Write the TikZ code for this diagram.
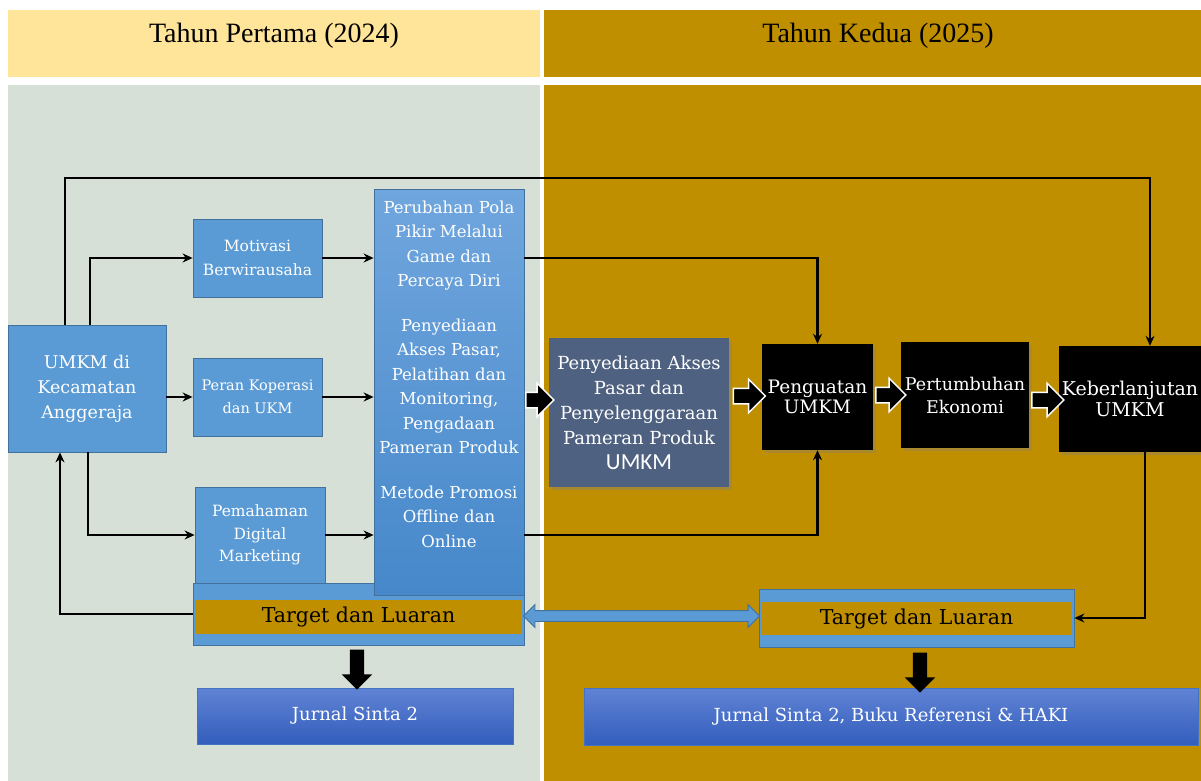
\documentclass[tikz,border=0pt]{standalone}
\usepackage{fontspec}
\setmainfont{DejaVu Serif}
\newfontfamily\hdfont{Liberation Serif}
\newfontfamily\calfont{Carlito}
\usepackage{tikz}
\usetikzlibrary{arrows.meta, calc, shapes.arrows, shadows}
\definecolor{umkm-blue}{RGB}{91,155,213}
\definecolor{umkm-edge}{RGB}{65,113,156}
\definecolor{big-top}{RGB}{112,166,222}
\definecolor{big-bot}{RGB}{70,136,202}
\definecolor{gold}{RGB}{191,143,0}
\definecolor{pale-yellow}{RGB}{255,229,153}
\definecolor{sage}{RGB}{214,224,214}
\definecolor{slate}{RGB}{79,97,128}
\definecolor{jurnal-top}{RGB}{96,131,212}
\definecolor{jurnal-bot}{RGB}{51,94,189}
\definecolor{jurnal-edge}{RGB}{68,114,196}

\tikzset{
	box/.style={draw=umkm-edge, fill=umkm-blue, text=white, align=center, inner sep=1pt, line width=0.8pt},
	blackbox/.style={fill=black, text=white, align=center, inner sep=1pt, drop shadow={opacity=0.35}},
	jurnal/.style={draw=jurnal-edge, top color=jurnal-top, bottom color=jurnal-bot, text=white, font=\fontsize{18}{22}\selectfont},
	strip/.style={fill=gold, inner sep=0pt, font=\fontsize{20.5}{24}\selectfont},
	header/.style={font=\hdfont\fontsize{28}{32}\selectfont},
	arr/.style={-{Stealth[length=10pt,width=9pt]}, line width=1.4pt},
	blockarr/.style={single arrow, fill=black, draw=white, line width=1.5pt, minimum width=32pt, single arrow head extend=9pt, inner sep=0pt, text height=7pt, text depth=7pt},
	downarr/.style={single arrow, fill=black, shape border rotate=270, minimum width=30pt, single arrow head extend=8pt, inner sep=0pt, text width=14pt, minimum height=40pt},
	linkarr/.style={double arrow, fill=umkm-blue, draw=umkm-edge, line width=0.8pt, minimum width=22pt, double arrow head extend=6pt, inner sep=0pt, text height=5pt, text depth=5pt, minimum height=236pt}
}

\begin{document}
\begin{tikzpicture}[x=1pt, y=-1pt]
	\useasboundingbox (0,0) rectangle (1201,781);
	\fill[white] (0,0) rectangle (1201,781);
	\fill[pale-yellow] (8,10) rectangle (540,77);
	\fill[gold] (544,10) rectangle (1201,77);
	\fill[sage] (8,85) rectangle (540,781);
	\fill[gold] (544,85) rectangle (1201,781);
	
	\node[header] at (274,36) (yr1) {Tahun Pertama (2024)};
	\node[header] at (878,36) (yr2) {Tahun Kedua (2025)};
	
	\node[box, minimum width=158pt, minimum height=127pt, font=\fontsize{17.5}{25}\selectfont] at (87,388.5) (umkm) {UMKM di\\Kecamatan\\Anggeraja};
	\node[box, minimum width=129pt, minimum height=78pt, font=\fontsize{15.5}{24}\selectfont] at (257.5,258) (motiv) {Motivasi\\Berwirausaha};
	\node[box, minimum width=129pt, minimum height=78pt, font=\fontsize{14.5}{23}\selectfont] at (257.5,397) (peran) {Peran Koperasi\\dan UKM};
	\node[box, minimum width=130pt, minimum height=96pt, font=\fontsize{15.5}{22.5}\selectfont] at (260,535) (pemah) {Pemahaman\\Digital\\Marketing};
	
	\node[box, minimum width=331pt, minimum height=62pt] at (358.5,614) (tgtL) {};
	\node[strip, minimum width=327pt, minimum height=34pt] at (358.5,617) (tgtLtxt) {Target dan Luaran};
	
	\node[box, top color=big-top, bottom color=big-bot, minimum width=150pt, minimum height=406pt] at (449,392) (big) {};
	\node[anchor=north, text=white, align=center, inner sep=2pt, font=\fontsize{16.5}{24.5}\selectfont] at ([yshift=-10pt]big.north) (bigtxt) {Perubahan Pola\\Pikir Melalui\\Game dan\\Percaya Diri\\[20pt]Penyediaan\\Akses Pasar,\\Pelatihan dan\\Monitoring,\\Pengadaan\\Pameran Produk\\[20pt]Metode Promosi\\Offline dan\\Online};
	
	\node[jurnal, minimum width=316pt, minimum height=56pt] at (355,716) (jurL) {Jurnal Sinta 2};
	
	\node[fill=slate, text=white, align=center, inner sep=1pt, drop shadow={opacity=0.4}, minimum width=180pt, minimum height=149pt, font=\fontsize{18}{25}\selectfont] at (639,412.5) (penye) {Penyediaan Akses\\Pasar dan\\Penyelenggaraan\\Pameran Produk\\{\calfont\fontsize{23}{28}\selectfont UMKM}};
	\node[blackbox, minimum width=111pt, minimum height=106pt, font=\fontsize{18.5}{20}\selectfont] at (817.5,397) (pengu) {Penguatan\\UMKM};
	\node[blackbox, minimum width=128pt, minimum height=106pt, font=\fontsize{17.5}{23}\selectfont] at (965,395) (pertu) {Pertumbuhan\\Ekonomi};
	\node[blackbox, minimum width=142pt, minimum height=106pt, font=\fontsize{19}{21}\selectfont] at (1130,399) (keber) {Keberlanjutan\\UMKM};
	
	\node[box, minimum width=315pt, minimum height=58pt] at (916.5,618) (tgtR) {};
	\node[strip, minimum width=311pt, minimum height=33pt] at (916.5,618.5) (tgtRtxt) {Target dan Luaran};
	
	\node[jurnal, minimum width=614pt, minimum height=57pt] at (891,716.5) (jurR) {Jurnal Sinta 2, Buku Referensi \& HAKI};
	
	\coordinate (loop) at (600,178);
	\draw[arr, line width=1.2pt] ([xshift=-22pt]umkm.north) |- (loop) -| ([xshift=20pt]keber.north);
	\draw[arr] ([xshift=3pt]umkm.north) |- (motiv.west);
	\draw[arr] (umkm.east |- peran.west) -- (peran.west);
	\draw[arr] ([xshift=1pt]umkm.south) |- (pemah.west);
	\draw[arr] (motiv.east) -- (motiv.east -| big.west);
	\draw[arr] (peran.east) -- (peran.east -| big.west);
	\draw[arr] (pemah.east) -- (pemah.east -| big.west);
	\draw[arr] (tgtL.west) -| ([xshift=-27pt]umkm.south);
	\draw[arr, line width=2.2pt] (big.east |- motiv.east) -| (pengu.north);
	\draw[arr, line width=2.2pt] (big.east |- pemah.east) -| (pengu.south);
	\draw[arr] ([xshift=15pt]keber.south) |- (tgtR.east);
	
	\node[blockarr, minimum height=28pt] at (536,400) (a1) {};
	\node[blockarr, minimum height=32pt] at (745.5,396) (a2) {};
	\node[blockarr, minimum height=30pt] at (887,395) (a3) {};
	\node[blockarr, minimum height=32pt] at (1044,400) (a4) {};
	\node[downarr] at (357,666) (d1) {};
	\node[downarr] at (920,669) (d2) {};
	\node[linkarr] at (641.5,616) (link) {};
\end{tikzpicture}
\end{document}
